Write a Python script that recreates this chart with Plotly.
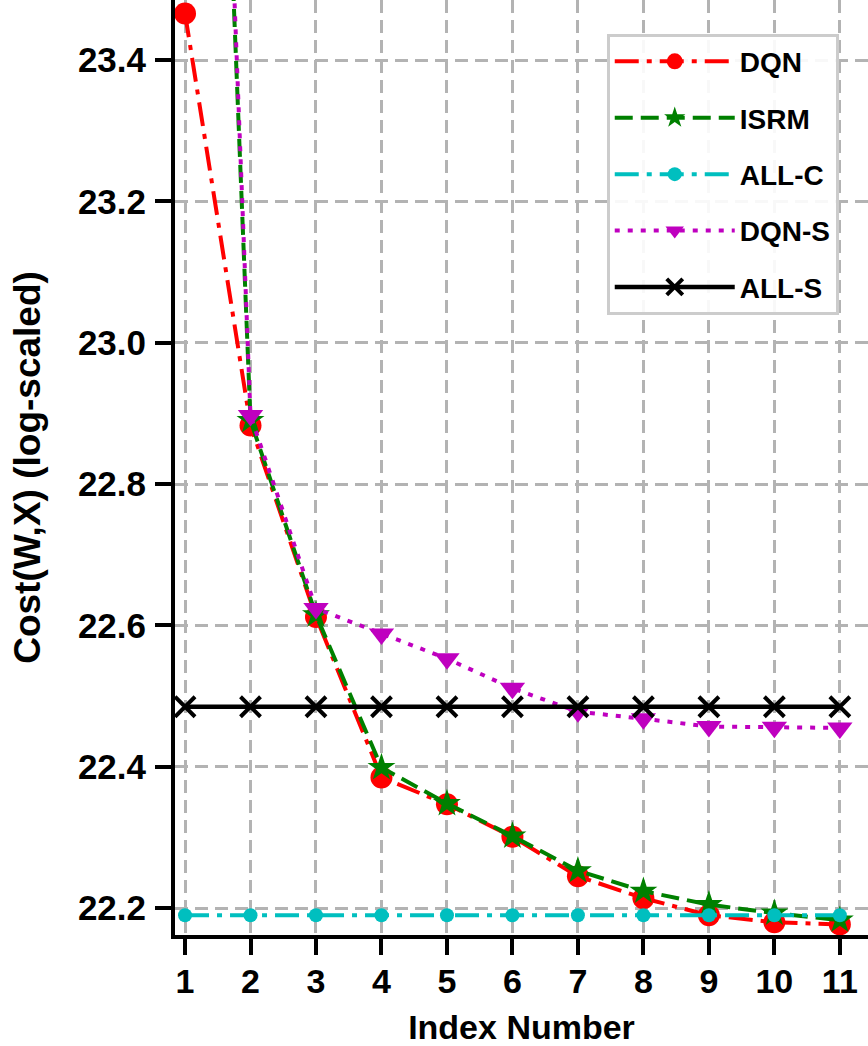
import plotly.graph_objects as go

x_idx = [1, 2, 3, 4, 5, 6, 7, 8, 9, 10, 11]
dqn = [23.466, 22.883, 22.612, 22.385, 22.347, 22.301, 22.245, 22.214, 22.190, 22.180, 22.177]
isrm = [25.20, 22.890, 22.615, 22.399, 22.348, 22.302, 22.253, 22.224, 22.205, 22.193, 22.183]
all_c = [22.190, 22.190, 22.190, 22.190, 22.190, 22.190, 22.190, 22.190, 22.190, 22.190, 22.190]
dqn_s = [25.30, 22.897, 22.624, 22.588, 22.553, 22.511, 22.478, 22.468, 22.457, 22.456, 22.455]
all_s = [22.485, 22.485, 22.485, 22.485, 22.485, 22.485, 22.485, 22.485, 22.485, 22.485, 22.485]
y_ticks = [22.2, 22.4, 22.6, 22.8, 23.0, 23.2, 23.4]
y_tick_labels = ["22.2", "22.4", "22.6", "22.8", "23.0", "23.2", "23.4"]

FONT = "Liberation Sans, Arial, Helvetica, sans-serif"

fig = go.Figure()
fig.add_trace(go.Scatter(x=x_idx, y=dqn, name="DQN", mode="lines+markers", legendgroup="a",
                         line=dict(color="#ff0000", width=4, dash="24px,8px,5px,8px"),
                         marker=dict(symbol="circle", size=22, color="#ff0000")))
fig.add_trace(go.Scatter(x=x_idx, y=isrm, name="ISRM", mode="lines+markers", legendgroup="b",
                         line=dict(color="#008000", width=4, dash="18px,8px"),
                         marker=dict(symbol="star", size=21, color="#008000")))
fig.add_trace(go.Scatter(x=x_idx, y=all_c, name="ALL-C", mode="lines+markers", legendgroup="c",
                         line=dict(color="#00bfbf", width=4, dash="24px,8px,5px,8px"),
                         marker=dict(symbol="circle", size=14, color="#00bfbf")))
fig.add_trace(go.Scatter(x=x_idx, y=dqn_s, name="DQN-S", mode="lines+markers", legendgroup="d",
                         line=dict(color="#bf00bf", width=4, dash="5px,8px"),
                         marker=dict(symbol="triangle-down", size=22, color="#bf00bf")))
fig.add_trace(go.Scatter(x=x_idx, y=all_s, name="ALL-S", mode="lines+markers", legendgroup="e",
                         line=dict(color="#000000", width=4.5),
                         marker=dict(symbol="x-thin", size=20, color="#000000",
                                     line=dict(color="#000000", width=4))))

fig.update_layout(
    width=868, height=1046,
    margin=dict(l=175, r=0, t=0, b=111),
    plot_bgcolor="white", paper_bgcolor="white",
    font=dict(family=FONT, size=34, color="black", weight="bold"),
    showlegend=True,
    legend=dict(x=0.623, y=0.964, xanchor="left", yanchor="top",
                bgcolor="rgba(255,255,255,0.9)", bordercolor="#cccccc", borderwidth=3,
                font=dict(family=FONT, size=28, color="black", weight="bold"),
                tracegroupgap=17, itemwidth=120, itemsizing="trace"),
)
fig.update_xaxes(
    range=[0.847, 11.43], tickmode="array", tickvals=x_idx,
    ticktext=[str(v) for v in x_idx],
    showline=True, linewidth=4, linecolor="black", mirror=False,
    ticks="outside", ticklen=16, tickwidth=4, tickcolor="black",
    showgrid=True, gridcolor="#b3b3b3", gridwidth=3, griddash="13px,7px",
    zeroline=False, tickfont=dict(size=34), ticklabelstandoff=-3,
    title=dict(text="Index Number", font=dict(size=34), standoff=19),
)
fig.update_yaxes(
    range=[22.162, 23.485], tickmode="array", tickvals=y_ticks, ticktext=y_tick_labels,
    showline=True, linewidth=4, linecolor="black", mirror=False,
    ticks="outside", ticklen=16, tickwidth=4, tickcolor="black",
    showgrid=True, gridcolor="#b3b3b3", gridwidth=3, griddash="13px,7px",
    zeroline=False, tickfont=dict(size=35), ticklabelstandoff=2,
    title=dict(text="Cost(W,X) (log-scaled)", font=dict(size=37), standoff=27),
)

fig.write_html("out.html", post_script="document.body.style.margin='0px';",
               config={"displayModeBar": False})
